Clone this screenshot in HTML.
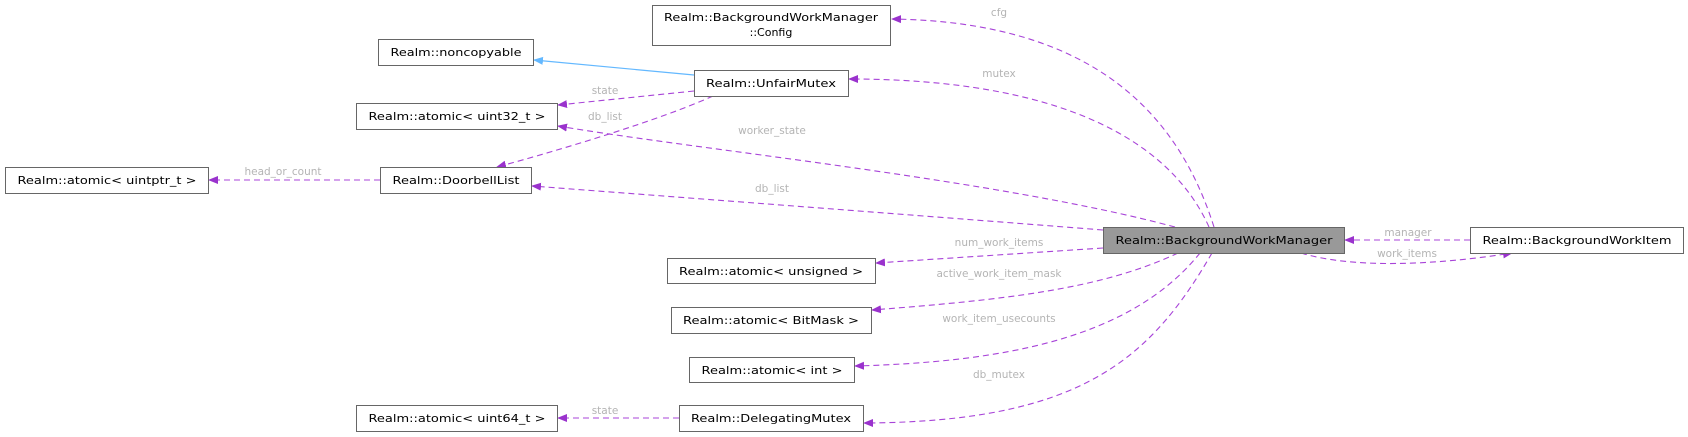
<!DOCTYPE html>
<html><head><meta charset="utf-8"><style>
html,body{margin:0;padding:0;background:#fff;}
svg{display:block;}
.b{fill:#fff;stroke:#666;stroke-width:1;}
.t{font-family:"DejaVu Sans","Liberation Sans",sans-serif;font-size:11px;fill:#000;text-anchor:middle;}
.l{font-family:"DejaVu Sans","Liberation Sans",sans-serif;font-size:10.5px;fill:#b4b4b4;text-anchor:middle;}
.e{fill:none;stroke:#a844d8;stroke-width:1.1;stroke-dasharray:6,4;marker-end:url(#ap);}
</style></head><body>
<svg width="1688" height="437" viewBox="0 0 1688 437" xmlns="http://www.w3.org/2000/svg">
<defs>
<marker id="ap" viewBox="0 0 10 10" refX="9" refY="5" markerWidth="10" markerHeight="10" markerUnits="userSpaceOnUse" orient="auto"><path d="M0,1 L10,5 L0,9 z" fill="#9a32cd"/></marker>
<marker id="ab" viewBox="0 0 10 10" refX="9" refY="5" markerWidth="10" markerHeight="10" markerUnits="userSpaceOnUse" orient="auto"><path d="M0,1 L10,5 L0,9 z" fill="#63b8ff"/></marker>
</defs>

<path d="M694,75 L534,60" fill="none" stroke="#63b8ff" stroke-width="1.2" marker-end="url(#ab)"/>
<path class="e" d="M694,91 L558,105"/>
<path class="e" d="M713,96 C660,120 560,150 497,167"/>
<path class="e" d="M380,180 L209,180"/>
<path class="e" d="M1214,227 C1180,120 1100,22 892,19"/>
<path class="e" d="M1209,227 C1170,140 1060,79 849,79"/>
<path class="e" d="M1175,227 C1000,180 700,150 558,126"/>
<path class="e" d="M1103,230 C900,214 650,195 532,186"/>
<path class="e" d="M1103,248 L876,263"/>
<path class="e" d="M1178,253 C1100,290 1000,300 872,310"/>
<path class="e" d="M1200,253 C1130,340 1000,362 855,366"/>
<path class="e" d="M1212,253 C1150,360 1080,422 864,423"/>
<path class="e" d="M1470,240 L1345,240"/>
<path class="e" d="M1301,253 C1350,268 1430,266 1512,253"/>
<path class="e" d="M679,418 L558,418"/>

<text class="l" x="999" y="16">cfg</text>
<text class="l" x="999" y="77">mutex</text>
<text class="l" x="605" y="94">state</text>
<text class="l" x="605" y="120">db_list</text>
<text class="l" x="772" y="134">worker_state</text>
<text class="l" x="283" y="175">head_or_count</text>
<text class="l" x="772" y="192">db_list</text>
<text class="l" x="999" y="246">num_work_items</text>
<text class="l" x="999" y="277">active_work_item_mask</text>
<text class="l" x="999" y="322">work_item_usecounts</text>
<text class="l" x="999" y="378">db_mutex</text>
<text class="l" x="605" y="414">state</text>
<text class="l" x="1408" y="236">manager</text>
<text class="l" x="1407" y="257">work_items</text>

<rect class="b" x="652.5" y="5.5" width="238" height="40"/>
<text class="t" x="771" y="21" textLength="214" lengthAdjust="spacingAndGlyphs">Realm::BackgroundWorkManager</text>
<text class="t" x="771" y="36">::Config</text>

<rect class="b" x="378.5" y="39.5" width="155" height="26"/>
<text class="t" x="456" y="56" textLength="131" lengthAdjust="spacingAndGlyphs">Realm::noncopyable</text>

<rect class="b" x="694.5" y="70.5" width="154" height="26"/>
<text class="t" x="771" y="87" textLength="130" lengthAdjust="spacingAndGlyphs">Realm::UnfairMutex</text>

<rect class="b" x="356.5" y="103.5" width="201" height="26"/>
<text class="t" x="457" y="120" textLength="177" lengthAdjust="spacingAndGlyphs">Realm::atomic&lt; uint32_t &gt;</text>

<rect class="b" x="5.5" y="167.5" width="203" height="26"/>
<text class="t" x="107" y="184" textLength="179" lengthAdjust="spacingAndGlyphs">Realm::atomic&lt; uintptr_t &gt;</text>

<rect class="b" x="380.5" y="167.5" width="151" height="26"/>
<text class="t" x="456" y="184" textLength="127" lengthAdjust="spacingAndGlyphs">Realm::DoorbellList</text>

<rect x="1103.5" y="227.5" width="241" height="26" fill="#999" stroke="#666"/>
<text class="t" x="1224" y="244" textLength="217" lengthAdjust="spacingAndGlyphs">Realm::BackgroundWorkManager</text>

<rect class="b" x="1470.5" y="227.5" width="213" height="26"/>
<text class="t" x="1577" y="244" textLength="189" lengthAdjust="spacingAndGlyphs">Realm::BackgroundWorkItem</text>

<rect class="b" x="667.5" y="258.5" width="208" height="25"/>
<text class="t" x="771" y="275" textLength="184" lengthAdjust="spacingAndGlyphs">Realm::atomic&lt; unsigned &gt;</text>

<rect class="b" x="671.5" y="307.5" width="200" height="26"/>
<text class="t" x="771" y="324" textLength="176" lengthAdjust="spacingAndGlyphs">Realm::atomic&lt; BitMask &gt;</text>

<rect class="b" x="689.5" y="357.5" width="165" height="25"/>
<text class="t" x="772" y="374" textLength="141" lengthAdjust="spacingAndGlyphs">Realm::atomic&lt; int &gt;</text>

<rect class="b" x="356.5" y="405.5" width="201" height="26"/>
<text class="t" x="457" y="422" textLength="177" lengthAdjust="spacingAndGlyphs">Realm::atomic&lt; uint64_t &gt;</text>

<rect class="b" x="679.5" y="405.5" width="184" height="26"/>
<text class="t" x="771" y="422" textLength="160" lengthAdjust="spacingAndGlyphs">Realm::DelegatingMutex</text>
</svg>
</body></html>
